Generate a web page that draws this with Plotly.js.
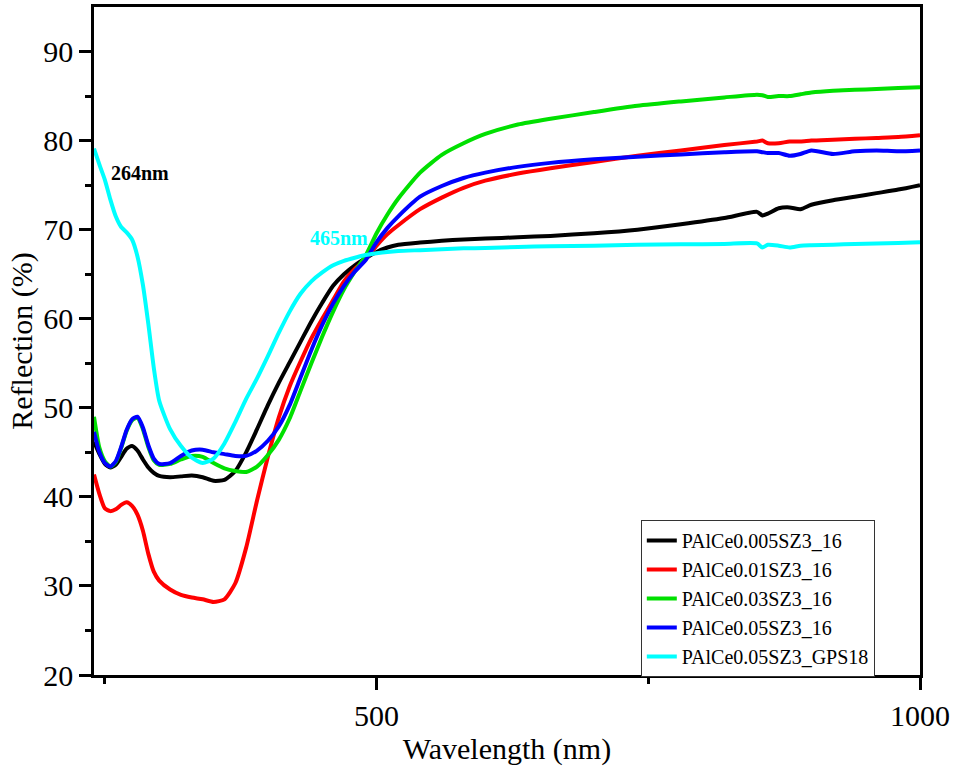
<!DOCTYPE html>
<html>
<head>
<meta charset="utf-8">
<script src="https://cdn.plot.ly/plotly-3.0.1.min.js"></script>
<style>
html,body{margin:0;padding:0;background:#fff;}
#chart{width:956px;height:771px;}
#chart svg text{font-family:"Liberation Serif","Times New Roman",serif !important;}
</style>
</head>
<body>
<div id="chart"></div>
<script>
const wavelength = [240,245,250,255,260,265,270,275,280,285,290,295,300,310,320,330,340,350,360,370,380,390,400,410,420,430,440,450,460,470,480,490,500,510,520,540,560,580,600,630,660,700,740,780,820,850,855,860,870,880,890,900,920,940,960,980,1000];

const sNames = ["PAlCe0.005SZ3_16","PAlCe0.01SZ3_16","PAlCe0.03SZ3_16","PAlCe0.05SZ3_16","PAlCe0.05SZ3_GPS18"];
const sColors = ["#000000","#ff0000","#00e000","#0000ff","#00ffff"];

const black005 = [46.2,44.8,43.7,43.3,43.6,44.5,45.4,45.7,45.2,44.2,43.3,42.7,42.35,42.2,42.3,42.4,42.2,41.8,41.9,42.9,45.0,47.6,50.3,52.8,55.1,57.4,59.7,61.8,63.7,65.0,66.0,66.8,67.5,68.0,68.3,68.55,68.75,68.9,69.0,69.15,69.3,69.6,70.0,70.6,71.3,72.0,71.6,71.8,72.4,72.5,72.3,72.8,73.3,73.7,74.1,74.5,75.0];
const red001 = [42.5,40.3,38.7,38.4,38.6,39.1,39.4,39.0,38.0,36.2,33.6,31.6,30.6,29.6,29.0,28.7,28.5,28.2,28.5,30.3,34.3,39.6,44.5,48.9,52.4,55.2,57.8,60.0,62.1,64.2,65.6,66.7,68.2,69.5,70.5,72.3,73.6,74.7,75.5,76.3,76.9,77.6,78.3,78.9,79.5,79.9,80.0,79.7,79.7,79.9,79.9,80.0,80.1,80.2,80.3,80.4,80.6];
const green003 = [49.0,45.5,44.0,43.4,43.9,45.5,47.4,48.6,48.9,47.6,45.6,44.1,43.6,43.7,44.2,44.6,44.5,43.8,43.2,42.9,42.8,43.4,44.7,46.4,48.8,51.9,55.0,58.0,60.8,63.3,65.3,67.1,69.6,71.7,73.5,76.4,78.4,79.7,80.75,81.8,82.45,83.2,83.9,84.4,84.85,85.15,85.1,84.9,85.0,85.0,85.2,85.4,85.6,85.7,85.8,85.9,86.0];
const blue005 = [47.3,45.0,43.8,43.4,44.0,45.6,47.5,48.7,49.0,47.8,45.8,44.3,43.7,43.8,44.6,45.2,45.3,45.0,44.8,44.6,44.6,45.2,46.3,47.9,50.3,53.4,56.5,59.3,61.7,63.7,65.3,66.6,68.6,70.2,71.5,73.7,74.9,75.8,76.4,77.05,77.5,77.9,78.2,78.45,78.7,78.8,78.7,78.6,78.6,78.3,78.5,78.9,78.5,78.8,78.9,78.8,78.9];
const cyanGPS18 = [79.1,77.3,75.6,73.4,71.5,70.3,69.7,68.9,67.0,63.8,59.4,54.5,50.8,47.6,45.7,44.4,43.8,44.3,46.0,48.4,51.0,53.3,55.8,58.4,60.8,62.8,64.2,65.2,66.0,66.5,66.85,67.15,67.35,67.5,67.6,67.7,67.8,67.9,67.95,68.05,68.15,68.2,68.3,68.35,68.4,68.45,68.0,68.3,68.2,68.0,68.2,68.25,68.3,68.4,68.45,68.5,68.6];

const series = [black005, red001, green003, blue005, cyanGPS18];

const yTicks = [20,30,40,50,60,70,80,90];
const xTicks = [500,1000];
const annLabels = [{text:"264nm", x:282, y:76.4, color:"#000000"},{text:"465nm", x:465, y:69.1, color:"#00ffff"}];

const font = "Liberation Serif";

const traces = series.map((ys, i) => ({
  x: wavelength, y: ys, type: "scatter", mode: "lines", name: sNames[i],
  line: {color: sColors[i], width: 4, shape: "spline", smoothing: 0.6}
}));

const layout = {
  width: 956, height: 771,
  margin: {l: 94, r: 36, t: 7, b: 96},
  font: {family: font, color: "#000"},
  showlegend: true,
  legend: {
    x: 0.662, y: 0.232, xanchor: "left", yanchor: "top",
    bgcolor: "#ffffff", bordercolor: "#333333", borderwidth: 1,
    font: {family: font, size: 20},
    tracegroupgap: 0
  },
  xaxis: {
    range: [240, 1000], tickvals: xTicks, ticktext: xTicks.map(String),
    ticks: "outside", ticklen: 12, tickwidth: 2.5, tickcolor: "#000",
    minor: {tickvals: [250, 750], ticks: "outside", ticklen: 6, tickwidth: 2.5, tickcolor: "#000"},
    showline: true, linewidth: 2.5, linecolor: "#000", mirror: true,
    showgrid: false, zeroline: false,
    tickfont: {family: font, size: 30},
    title: {text: "Wavelength (nm)", font: {family: font, size: 30}, standoff: 8}
  },
  yaxis: {
    range: [20, 95], tickvals: yTicks, ticktext: yTicks.map(String),
    ticks: "outside", ticklen: 12, tickwidth: 2.5, tickcolor: "#000",
    minor: {tickvals: [25,35,45,55,65,75,85], ticks: "outside", ticklen: 6, tickwidth: 2.5, tickcolor: "#000"},
    showline: true, linewidth: 2.5, linecolor: "#000", mirror: true,
    showgrid: false, zeroline: false,
    tickfont: {family: font, size: 30},
    title: {text: "Reflection (%)", font: {family: font, size: 30}, standoff: 2}
  },
  annotations: annLabels.map(a => ({
    x: a.x, y: a.y, xref: "x", yref: "y", text: "<b>" + a.text + "</b>", showarrow: false,
    font: {family: font, size: 20, color: a.color}
  }))
};

Plotly.newPlot("chart", traces, layout, {displayModeBar: false});
</script>
</body>
</html>
